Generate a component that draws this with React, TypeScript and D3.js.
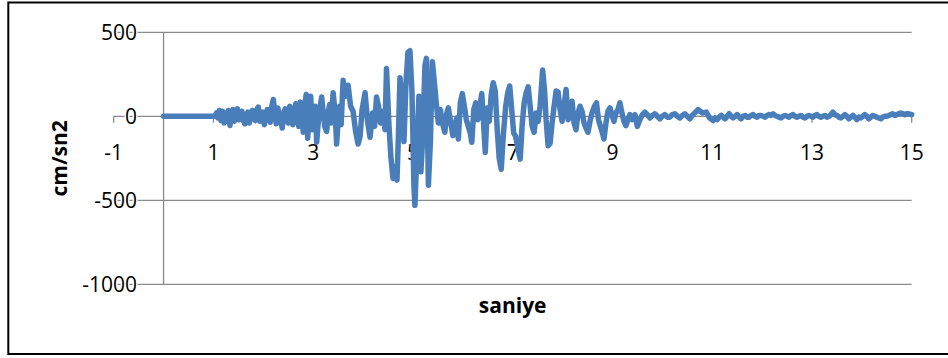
import { useEffect, useRef } from "react";
import { select, scaleLinear, line } from "d3";

// seconds / cm/sn2
const preEvent: [number, number][] = [
  [0, 0], [0.5, 0], [1.0, 0], [1.03, 0],
];

const buildUp: [number, number][] = [
  [1.06, 20], [1.09, -10], [1.12, 35], [1.15, -25], [1.18, 30], [1.21, -40],
  [1.24, 20], [1.27, -30], [1.30, 35], [1.33, -55], [1.36, 15], [1.39, 40],
  [1.42, -30], [1.45, 20], [1.48, 45], [1.51, -20], [1.54, 10], [1.57, 30],
  [1.60, -25], [1.63, -45], [1.66, 10], [1.69, 25], [1.72, -40], [1.75, 15],
  [1.78, 35], [1.81, -10], [1.84, -25], [1.87, 40], [1.90, 55], [1.93, -30],
  [1.96, 10], [1.99, 25], [2.02, -50], [2.05, -10], [2.08, 40], [2.11, 10],
  [2.14, -35], [2.17, 60], [2.20, 100], [2.23, 20], [2.26, -45], [2.29, 50],
  [2.32, 10], [2.35, -30], [2.38, -70], [2.41, 20], [2.44, 45], [2.47, -10],
  [2.50, -40], [2.53, 60], [2.56, 10], [2.59, -50], [2.62, 20], [2.65, 75],
  [2.68, -20], [2.71, -60], [2.74, 85], [2.77, 20], [2.80, -95], [2.83, 60],
  [2.86, 130], [2.89, -130], [2.92, 40], [2.95, 120], [2.98, -80], [3.01, 20],
  [3.04, 60], [3.07, -155], [3.10, -40], [3.13, 40], [3.17, 115], [3.20, 30],
  [3.23, -60], [3.27, -90], [3.30, 20], [3.33, 70], [3.36, -40], [3.40, 140],
  [3.44, 20], [3.47, -165], [3.50, -20], [3.53, 60], [3.56, -50], [3.60, 215],
  [3.65, 120], [3.70, 185], [3.75, 60], [3.80, 30], [3.85, -90], [3.90, -165],
  [3.94, -120], [3.98, 40], [4.04, 140], [4.09, -30], [4.14, -125], [4.19, 20],
  [4.23, -60], [4.27, 115], [4.31, 60], [4.35, -40], [4.40, 30], [4.44, -80],
];

const strongMotion: [number, number][] = [
  [4.47, 285], [4.52, -60], [4.56, -250], [4.60, -370], [4.64, -300], [4.68, -380],
  [4.71, -100], [4.74, 230], [4.78, 60], [4.82, -150], [4.86, 200], [4.90, 380],
  [4.94, 390], [4.98, 150], [5.02, -420], [5.04, -530], [5.08, -200], [5.12, 120],
  [5.16, -330], [5.20, -100], [5.24, 300], [5.27, 345], [5.31, -410], [5.35, -150],
  [5.39, 325], [5.43, 200], [5.47, 70], [5.51, -40], [5.55, 40], [5.60, -50],
  [5.64, -95], [5.68, 20], [5.71, 50], [5.75, -20], [5.80, -115], [5.84, -60],
  [5.88, -10], [5.91, -135], [5.95, 80], [5.99, 135], [6.03, 60], [6.07, -20],
  [6.11, -60], [6.15, -100], [6.18, -155], [6.22, 40], [6.26, 80], [6.30, -20],
  [6.34, 60], [6.38, 135], [6.42, -60], [6.45, -215], [6.49, 50], [6.53, -30],
  [6.57, 130], [6.61, 200], [6.65, 150], [6.69, -80], [6.73, -250], [6.77, -315],
  [6.81, -120], [6.86, 60], [6.90, 140], [6.94, 180], [6.98, 40], [7.02, -100],
  [7.06, -120], [7.11, -200], [7.15, -255], [7.19, -50], [7.23, 80], [7.27, 140],
  [7.31, 175], [7.35, 60], [7.39, -60], [7.43, -95], [7.47, 20], [7.51, -30],
  [7.55, 60], [7.60, 275], [7.64, 150], [7.67, -20], [7.71, -175], [7.75, -160],
  [7.79, -40], [7.83, 60], [7.87, 150], [7.91, 145], [7.95, 40], [7.99, -30],
  [8.03, 60], [8.07, 160], [8.11, -20], [8.15, 20], [8.19, 90], [8.23, -40],
  [8.27, -80], [8.31, 20], [8.35, 60], [8.39, 30], [8.43, -40], [8.47, -70],
  [8.51, -95], [8.55, -30], [8.59, 20], [8.64, 60], [8.68, 80], [8.72, -20],
  [8.76, -60], [8.80, -100], [8.83, -135], [8.87, -40], [8.91, 30], [8.95, 50],
  [8.99, 10], [9.03, -30], [9.07, 20], [9.11, 40], [9.15, 80], [9.19, 20],
  [9.23, -30], [9.27, -55], [9.31, -20], [9.35, 10], [9.40, -20], [9.45, 10],
  [9.50, -60], [9.55, -20], [9.60, 10], [9.65, 25], [9.70, 10],
];

const coda: [number, number][] = [
  [9.75, -10], [9.80, 5], [9.85, 15], [9.90, 0], [9.95, -15], [10.00, 0],
  [10.05, 10], [10.10, -5], [10.15, -5], [10.20, 10], [10.25, 15], [10.30, 0],
  [10.35, -10], [10.40, 5], [10.45, 15], [10.50, 0], [10.55, -15], [10.60, 5],
  [10.65, 20], [10.72, 40], [10.80, 20], [10.88, 25], [10.95, -10], [11.02, -25],
  [11.06, -10], [11.10, -20], [11.14, -5], [11.18, 5], [11.22, -5], [11.26, -15],
  [11.30, 0], [11.34, 15], [11.38, 0], [11.42, -10], [11.46, 0], [11.50, 10],
  [11.54, -5], [11.58, -15], [11.62, 0], [11.66, 5], [11.70, -5], [11.74, -5],
  [11.78, 5], [11.82, 10], [11.86, 0], [11.90, -5], [11.94, 5], [11.98, 5],
  [12.02, 0], [12.06, -5], [12.10, 5], [12.14, 10], [12.18, 5], [12.22, 15],
  [12.26, 5], [12.30, 0], [12.34, -5], [12.38, -10], [12.42, 0], [12.46, 5],
  [12.50, 0], [12.54, -5], [12.58, 5], [12.62, 10], [12.66, 0], [12.70, -5],
  [12.74, 0], [12.78, 5], [12.82, -5], [12.86, -10], [12.90, 0], [12.94, 5],
  [12.98, 0], [13.02, -5], [13.06, 5], [13.10, 10], [13.14, 0], [13.18, -5],
  [13.22, 0], [13.26, 5], [13.30, -5], [13.34, 0], [13.38, 10], [13.42, 25],
  [13.46, 10], [13.50, 5], [13.54, -5], [13.58, -10], [13.62, 0], [13.66, 10],
  [13.70, 0], [13.74, -15], [13.78, -5], [13.82, 5], [13.86, -5], [13.90, -20],
  [13.94, -5], [13.98, -10], [14.02, 0], [14.06, 10], [14.10, 0], [14.14, -15],
  [14.18, -5], [14.22, 5], [14.26, 0], [14.30, -5], [14.34, -10], [14.38, -15],
  [14.42, -5], [14.46, 0], [14.50, 0], [14.54, 5], [14.58, 10], [14.62, 15],
  [14.66, 5], [14.70, 10], [14.74, 15], [14.78, 20], [14.82, 15], [14.86, 10],
  [14.90, 15], [14.94, 15], [15.0, 10],
];

const xTicks = [-1, 1, 3, 5, 7, 9, 11, 13, 15];
const yTicks = [-1000, -500, 0, 500];

const W = 948;
const H = 358;
const FONT = "'Open Sans', 'Liberation Sans', sans-serif";

export default function App() {
  const ref = useRef<SVGSVGElement>(null);

  useEffect(() => {
    const svg = select(ref.current);
    svg.selectAll("*").remove();

    const x = scaleLinear().domain([-1, 15]).range([113.7, 911.7]);
    const y = scaleLinear().domain([-1000, 500]).range([284.3, 32.3]);

    // outer chart border
    svg.append("rect")
      .attr("x", 8.3).attr("y", 2.5)
      .attr("width", 945).attr("height", 351.5)
      .attr("fill", "white")
      .attr("stroke", "#000").attr("stroke-width", 2);

    // horizontal gridlines (0 doubles as the x axis)
    svg.append("g").selectAll("line").data(yTicks).join("line")
      .attr("x1", x(-1)).attr("x2", x(15))
      .attr("y1", d => y(d)).attr("y2", d => y(d))
      .attr("stroke", "#8a8a8a").attr("stroke-width", 1.3);

    // vertical axis at t = 0
    svg.append("line")
      .attr("x1", x(0)).attr("x2", x(0))
      .attr("y1", y(500)).attr("y2", y(-1000))
      .attr("stroke", "#8a8a8a").attr("stroke-width", 1.3);

    // x ticks hanging from the zero line
    svg.append("g").selectAll("line").data(xTicks).join("line")
      .attr("x1", d => x(d)).attr("x2", d => x(d))
      .attr("y1", y(0)).attr("y2", y(0) + 6.5)
      .attr("stroke", "#8a8a8a").attr("stroke-width", 1.3);

    // y labels
    svg.append("g").selectAll("text").data(yTicks).join("text")
      .attr("x", 137).attr("y", d => y(d) + 7.5)
      .attr("text-anchor", "end")
      .attr("font-family", FONT).attr("font-size", 21)
      .attr("fill", "#000")
      .attr("stroke", "white").attr("stroke-width", 3)
      .attr("paint-order", "stroke")
      .text(d => d);

    // x labels
    svg.append("g").selectAll("text").data(xTicks).join("text")
      .attr("x", d => x(d)).attr("y", 159.5)
      .attr("text-anchor", "middle")
      .attr("font-family", FONT).attr("font-size", 21)
      .attr("fill", "#000")
      .text(d => d);

    // the record
    const series = [...preEvent, ...buildUp, ...strongMotion, ...coda];
    const path = line<[number, number]>()
      .x(d => x(d[0]))
      .y(d => y(d[1]));

    svg.append("path")
      .attr("d", path(series))
      .attr("fill", "none")
      .attr("stroke", "#4a7ebb")
      .attr("stroke-width", 5.5)
      .attr("stroke-linejoin", "round")
      .attr("stroke-linecap", "round");

    // axis titles
    svg.append("text")
      .attr("transform", `translate(67, ${(y(500) + y(-1000)) / 2}) rotate(-90)`)
      .attr("text-anchor", "middle")
      .attr("font-family", FONT).attr("font-size", 21).attr("font-weight", "bold")
      .text("cm/sn2");

    svg.append("text")
      .attr("x", (x(-1) + x(15)) / 2).attr("y", 313)
      .attr("text-anchor", "middle")
      .attr("font-family", FONT).attr("font-size", 21).attr("font-weight", "bold")
      .text("saniye");
  }, []);

  return (
    <svg
      ref={ref}
      width={W}
      height={H}
      style={{ position: "absolute", left: 0, top: 0, background: "white" }}
    />
  );
}
